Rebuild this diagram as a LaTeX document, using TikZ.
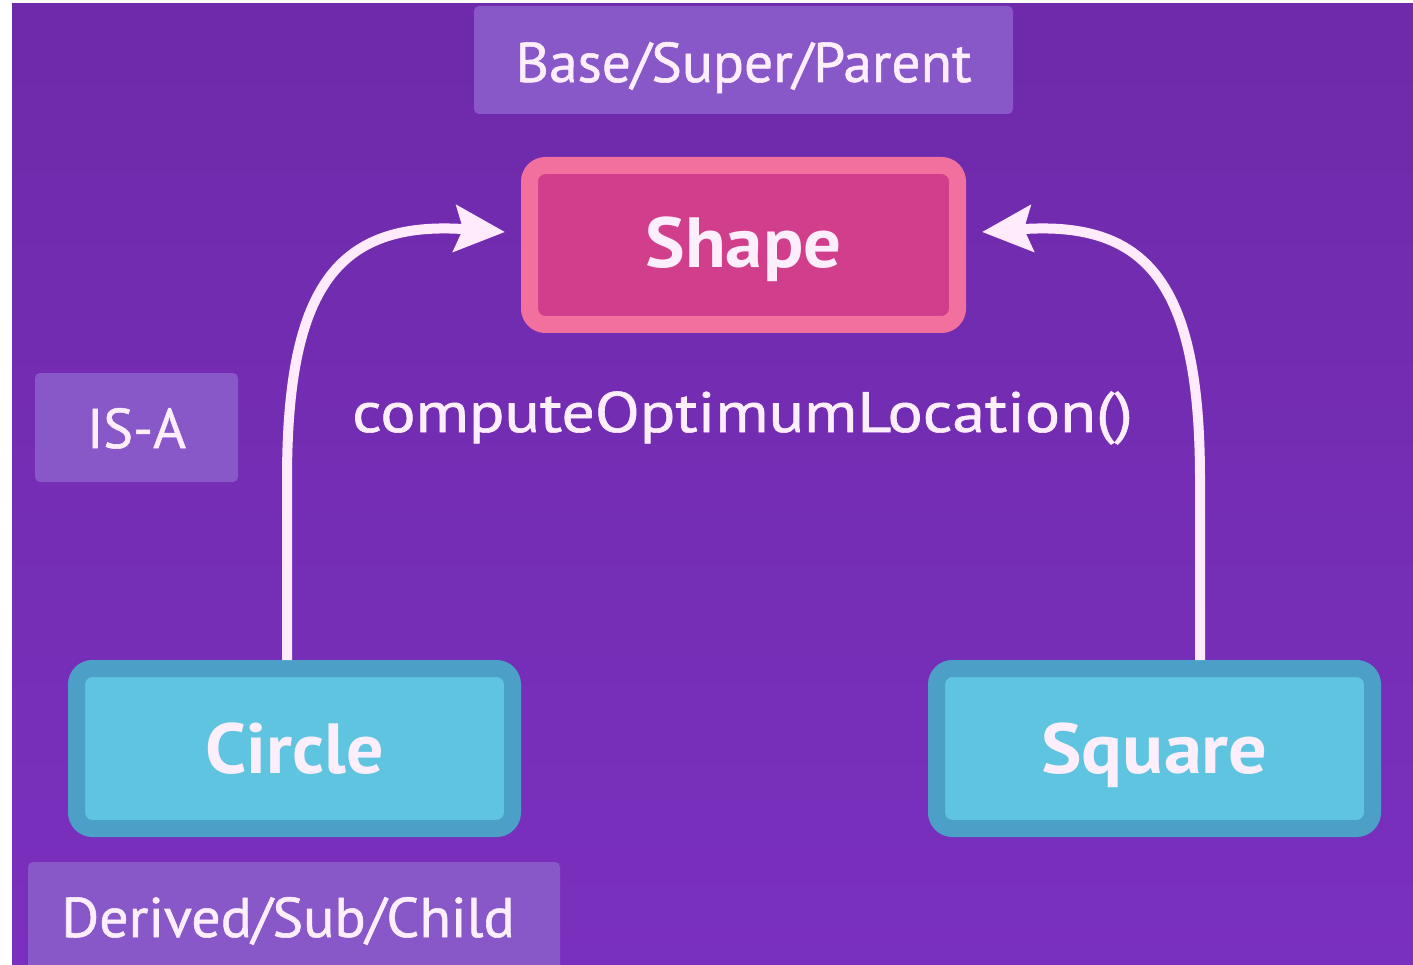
\documentclass[tikz,border=0pt]{standalone}
\usepackage{graphicx}
\usepackage{fontspec}
\setmainfont{PT Sans}
\usetikzlibrary{arrows.meta}
\definecolor{bgtop}{RGB}{110,42,170}
\definecolor{bgbot}{RGB}{122,48,190}
\definecolor{lblfill}{RGB}{136,88,200}
\definecolor{pinkout}{RGB}{242,112,158}
\definecolor{pinkin}{RGB}{208,62,140}
\definecolor{cyanout}{RGB}{76,160,200}
\definecolor{cyanin}{RGB}{94,196,224}
\definecolor{txt}{RGB}{253,238,252}
\definecolor{arrcol}{RGB}{255,235,252}
\newcommand{\hs}[2]{\scalebox{#1}[1]{#2}}
\begin{document}
\begin{tikzpicture}[x=1pt,y=-1pt,
  lbl/.style={fill=lblfill, rounded corners=5pt, inner sep=0pt, outer sep=0pt, text=txt,
    font=\fontsize{56}{56}\selectfont\addfontfeature{FakeBold=1}},
  cls/.style={line width=17pt, rounded corners=16pt, inner sep=0pt, outer sep=8.5pt,
    text=txt, font=\fontsize{71}{71}\selectfont\bfseries},
  parent/.style={cls, draw=pinkout, fill=pinkin, minimum width=428pt, minimum height=159pt},
  child/.style={cls, draw=cyanout, fill=cyanin, minimum width=436pt, minimum height=160pt},
  isa/.style={line width=10pt, draw=arrcol, -{Stealth[length=50pt,width=46pt,inset=8pt]}}
]
\useasboundingbox (0,0) rectangle (1413,965);
\fill[white] (0,0) rectangle (1413,965);
\shade[top color=bgtop, bottom color=bgbot] (12,4) rectangle (1413,965);

\node[lbl, minimum width=539pt, minimum height=108pt, text height=44pt, text depth=0pt]
  (base) at (743.5,60) {\hs{1.027}{Base/Super/Parent}};
\node[parent, text height=46pt, text depth=0pt] (shape) at (743.5,245) {\hs{1.054}{Shape}};
\node[text=txt, font=\fontsize{57}{57}\selectfont\addfontfeature{FakeBold=1}, anchor=base, inner sep=0pt]
  (method) at (742.5,432) {\hs{1.153}{computeOptimumLocation()}};
\node[lbl, minimum width=203pt, minimum height=109pt, text height=41pt, text depth=0pt]
  (isa) at (136.5,427.5) {IS-A};
\node[child, text height=49pt, text depth=0pt] (circle) at (294.5,748.5) {\hs{1.04}{Circle}};
\node[child, text height=49pt, text depth=0pt] (square) at (1154.5,748.5) {\hs{1.077}{Square}};
\node[lbl, minimum width=532pt, minimum height=113pt, text height=37pt, text depth=0pt]
  (derived) at (294,918.5) {\hs{1.035}{Derived/Sub/Child}\kern12pt};

\draw[isa] ([xshift=-7.5pt]circle.north) -- (287,480)
  .. controls (287,290) and (335,220) .. ([xshift=-16pt,yshift=13pt]shape.west);
\draw[isa] ([xshift=45.5pt]square.north) -- (1200,480)
  .. controls (1200,290) and (1152,220) .. ([xshift=16pt,yshift=13pt]shape.east);
\end{tikzpicture}
\end{document}
